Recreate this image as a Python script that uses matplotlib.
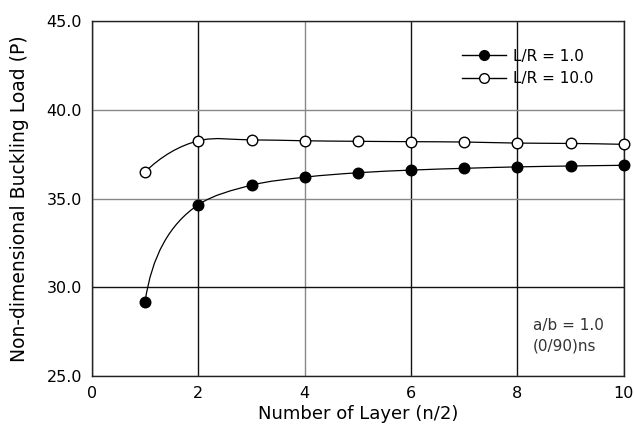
import matplotlib
matplotlib.use("Agg")
import matplotlib.pyplot as plt
from matplotlib.path import Path
from matplotlib.patches import PathPatch
from matplotlib.lines import Line2D
import numpy as np

layers = [1, 2, 3, 4, 5, 6, 7, 8, 9, 10]
lr_1 = [29.2, 34.65, 35.75, 36.2, 36.45, 36.6, 36.7, 36.78, 36.83, 36.87]
lr_10 = [36.5, 38.25, 38.3, 38.25, 38.22, 38.2, 38.18, 38.12, 38.1, 38.05]
xticks = [0, 2, 4, 6, 8, 10]
yticks = [25.0, 30.0, 35.0, 40.0, 45.0]
labels = ["L/R = 1.0", "L/R = 10.0"]

plt.rcParams['font.family'] = ['DejaVu Sans']

fig = plt.figure(figsize=(6.34, 4.26), dpi=100)
ax = fig.add_axes([0.145, 0.117, 0.839, 0.834])
ax.set_xlim(0, 10)
ax.set_ylim(25, 45)


def smooth_path(x, y):
    """Chord-length Catmull-Rom (in display space) converted to Bezier."""
    pts = ax.transData.transform(np.column_stack([x, y]))
    n = len(pts)
    d = np.linalg.norm(np.diff(pts, axis=0), axis=1)
    tang = np.zeros_like(pts)
    for i in range(1, n - 1):
        a = (pts[i] - pts[i - 1]) / d[i - 1]
        b = (pts[i + 1] - pts[i]) / d[i]
        tang[i] = a * d[i] / (d[i - 1] + d[i]) + b * d[i - 1] / (d[i - 1] + d[i])
    tang[0] = 2 * (pts[1] - pts[0]) / d[0] - tang[1]
    tang[-1] = 2 * (pts[-1] - pts[-2]) / d[-1] - tang[-2]
    verts = [pts[0]]
    codes = [Path.MOVETO]
    for i in range(n - 1):
        c1 = pts[i] + tang[i] * d[i] / 3
        c2 = pts[i + 1] - tang[i + 1] * d[i] / 3
        verts += [c1, c2, pts[i + 1]]
        codes += [Path.CURVE4] * 3
    verts = ax.transData.inverted().transform(np.array(verts))
    return Path(verts, codes)


for ys, face in [(lr_1, 'black'), (lr_10, 'white')]:
    ax.add_patch(PathPatch(smooth_path(layers, ys), facecolor='none',
                           edgecolor='black', lw=0.9, zorder=3))
    ax.plot(layers, ys, ls='none', marker='o', ms=7.6, mfc=face,
            mec='black', mew=1.0, zorder=4, clip_on=False)

ax.set_xticks(xticks)
ax.set_yticks(yticks)
ax.set_xticklabels([str(t) for t in xticks])
ax.set_yticklabels([f"{t:.1f}" for t in yticks])
ax.tick_params(length=0, labelsize=11.5, pad=7)
ax.grid(True, lw=1.0)
for gl, t in zip(ax.get_xgridlines(), xticks):
    gl.set_color('#888888' if t == 4 else '#111111')
for gl, t in zip(ax.get_ygridlines(), yticks):
    gl.set_color('#111111' if t == 30 else '#888888')
ax.set_axisbelow(True)
for s in ax.spines.values():
    s.set_color('#222222')
    s.set_linewidth(1.0)

ax.set_xlabel("Number of Layer (n/2)", fontsize=13, labelpad=3)
ax.set_ylabel("Non-dimensional Buckling Load (P)", fontsize=13.5, labelpad=13)

handles = [
    Line2D([], [], color='black', lw=1, marker='o', ms=7, mfc='black', mec='black'),
    Line2D([], [], color='black', lw=1, marker='o', ms=7, mfc='white', mec='black'),
]
ax.legend(handles, labels, loc='upper left', bbox_to_anchor=(0.695, 0.922),
          frameon=False, fontsize=11, handlelength=2.9, handletextpad=0.45,
          labelspacing=0.5, borderpad=0, borderaxespad=0)

ax.text(8.29, 27.87, "a/b = 1.0", fontsize=11, color='#333333', va='center')
ax.text(8.29, 26.69, "(0/90)ns", fontsize=11, color='#333333', va='center')

fig.savefig("out.png", dpi=100)
